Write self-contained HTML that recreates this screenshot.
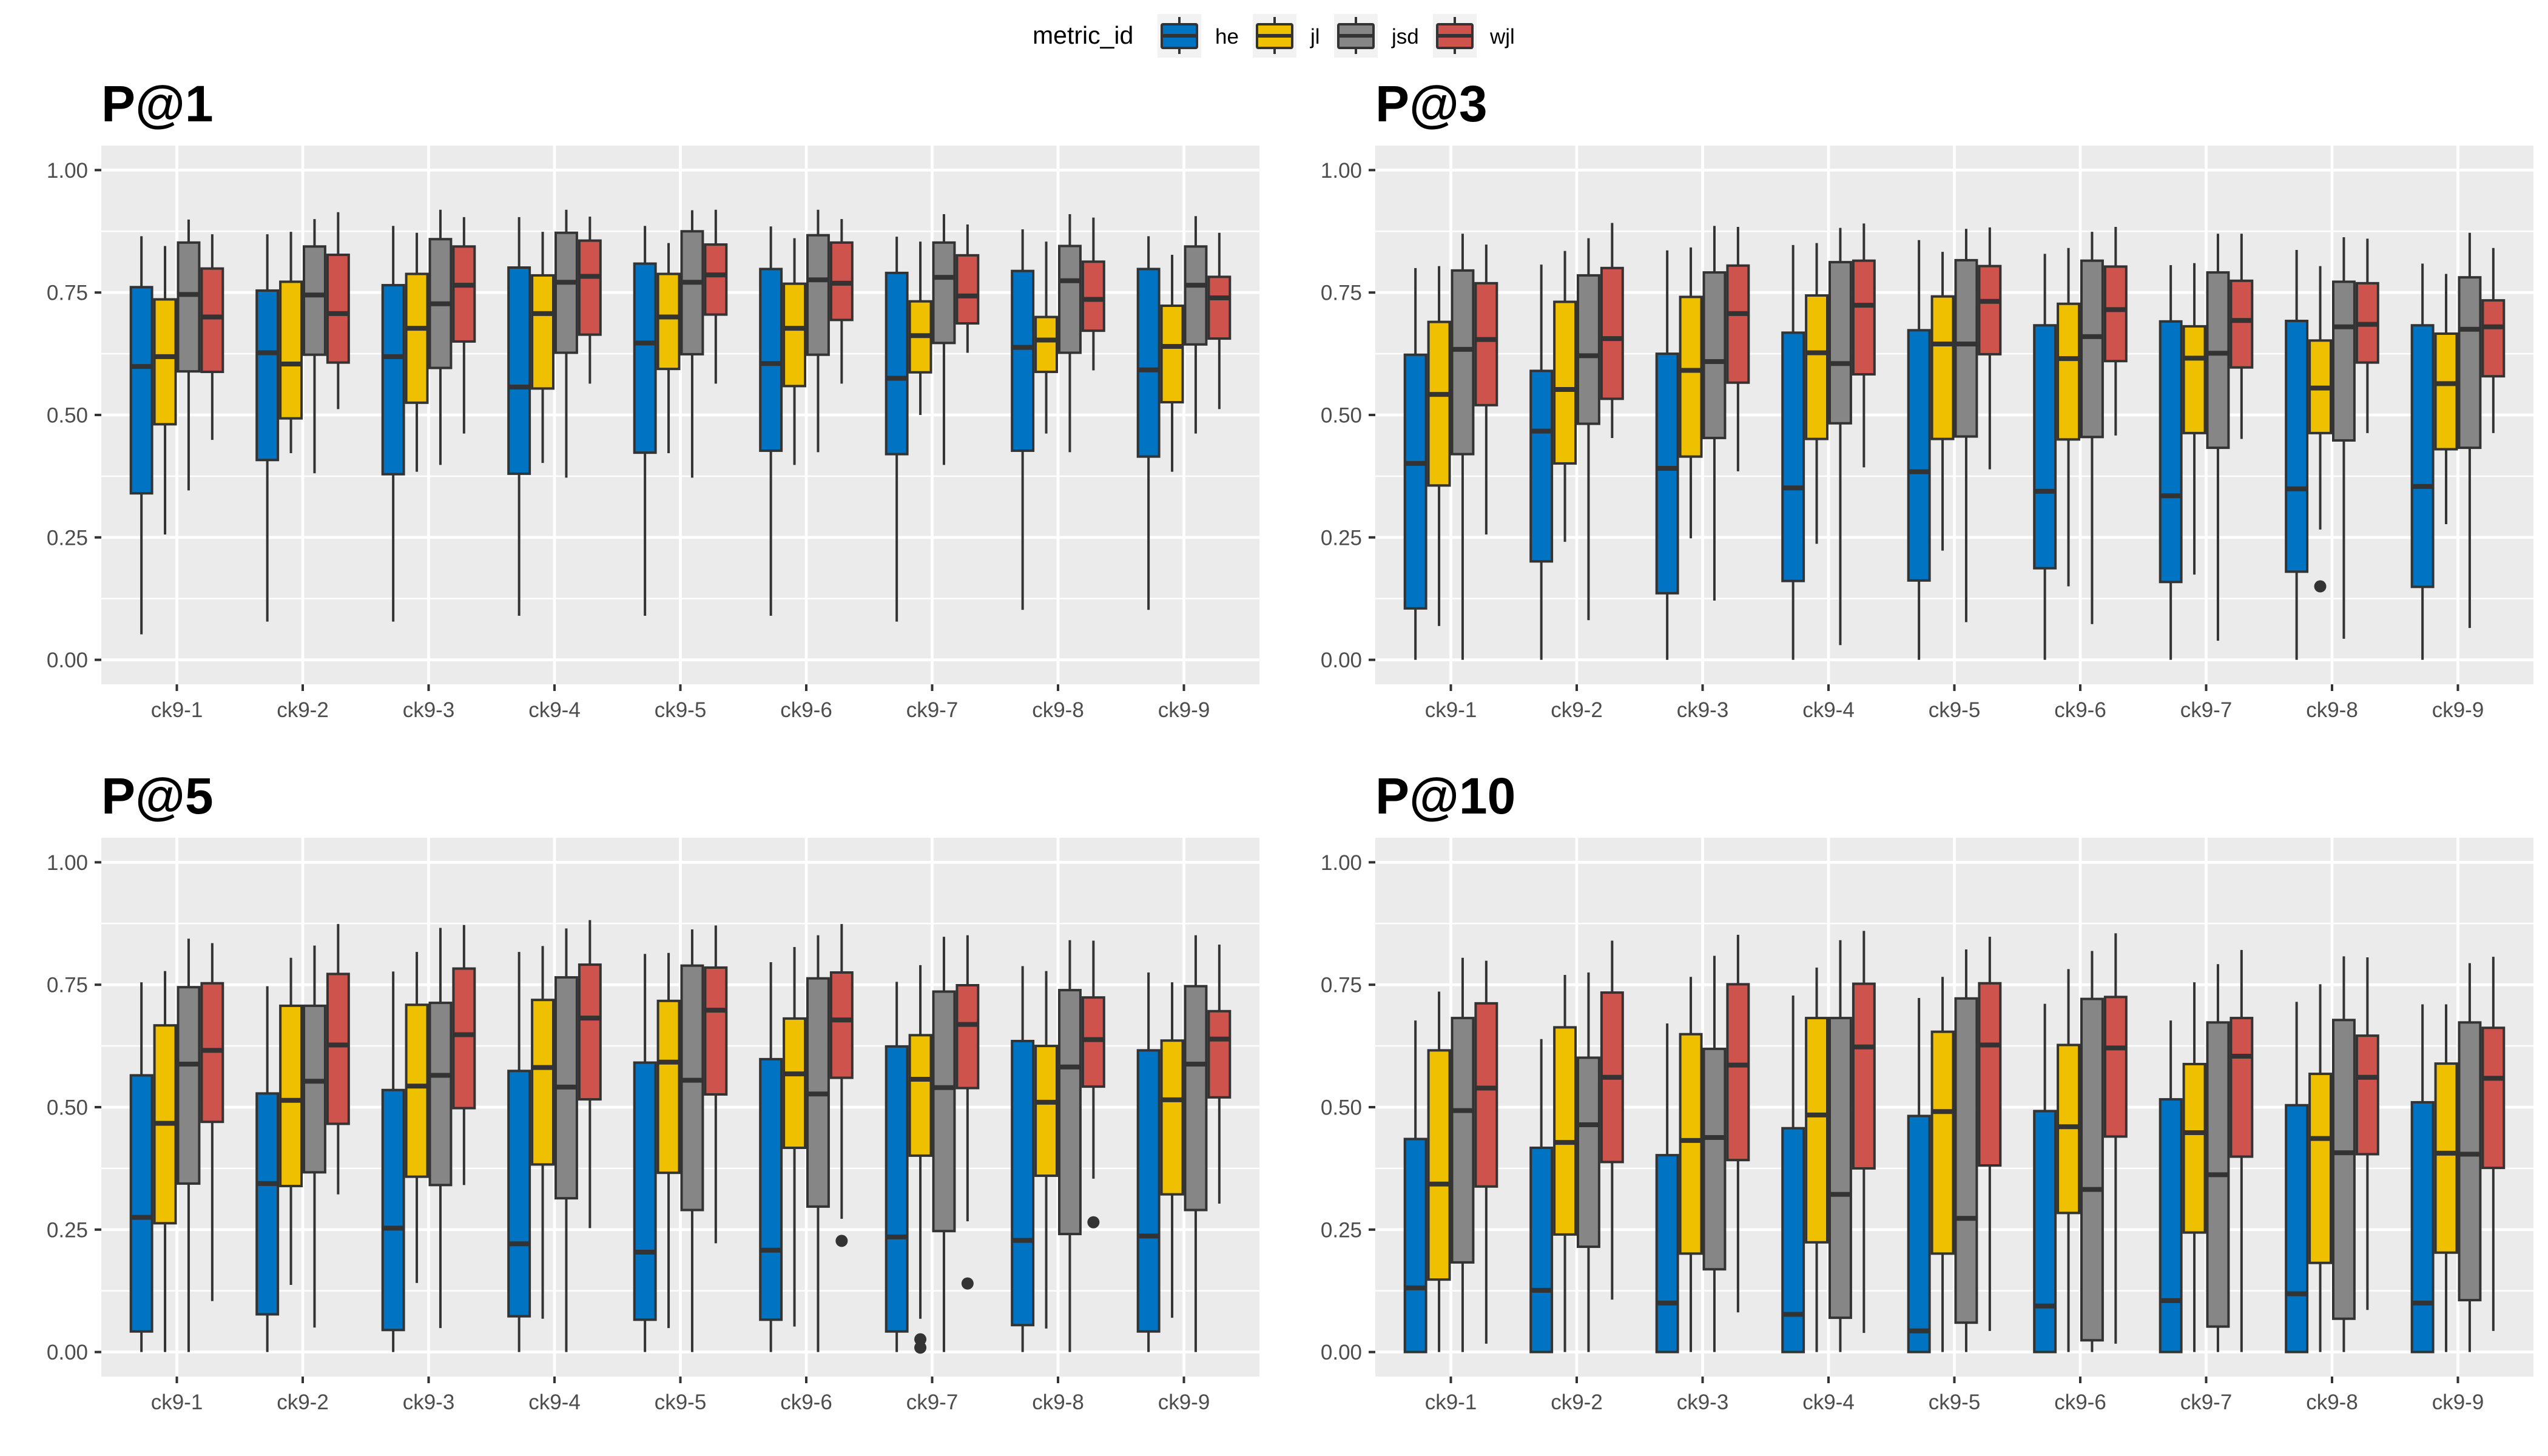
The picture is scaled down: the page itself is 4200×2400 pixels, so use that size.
<!DOCTYPE html>
<html><head><meta charset="utf-8"><style>
html,body{margin:0;padding:0;background:#fff;}
svg{display:block;}
text{font-family:"Liberation Sans",sans-serif;}
</style></head><body>
<svg id="chart" width="4200" height="2400" viewBox="0 0 4200 2400" xmlns="http://www.w3.org/2000/svg">
<g id="legend">
  <text x="1702" y="72" font-size="41" fill="#000">metric_id</text>
</g>
</svg>
<script>
const categories = ["ck9-1","ck9-2","ck9-3","ck9-4","ck9-5","ck9-6","ck9-7","ck9-8","ck9-9"];
const seriesNames = ["he","jl","jsd","wjl"];
const seriesColors = ["#0073C2","#EFC000","#868686","#CD534C"];
const yTicks = [0,0.25,0.5,0.75,1];
const yTickLabels = ["0.00","0.25","0.50","0.75","1.00"];
const panelTitles = ["P@1","P@3","P@5","P@10"];
// each entry: [lower whisker, q1, median, q3, upper whisker]
const p1_he  = [[0.052,0.340,0.599,0.761,0.865],[0.078,0.408,0.627,0.754,0.869],[0.078,0.379,0.619,0.765,0.886],[0.090,0.380,0.557,0.801,0.904],[0.090,0.423,0.647,0.809,0.886],[0.090,0.427,0.605,0.798,0.885],[0.078,0.420,0.575,0.790,0.864],[0.102,0.427,0.638,0.794,0.879],[0.102,0.415,0.592,0.798,0.865]];
const p1_jl  = [[0.256,0.481,0.619,0.736,0.845],[0.422,0.493,0.604,0.772,0.874],[0.384,0.525,0.677,0.788,0.872],[0.402,0.554,0.707,0.785,0.874],[0.422,0.594,0.700,0.788,0.851],[0.398,0.559,0.677,0.768,0.861],[0.500,0.587,0.662,0.732,0.854],[0.462,0.588,0.653,0.700,0.854],[0.384,0.526,0.640,0.723,0.827]];
const p1_jsd = [[0.346,0.589,0.746,0.852,0.899],[0.381,0.623,0.745,0.844,0.900],[0.398,0.596,0.727,0.859,0.919],[0.372,0.627,0.771,0.872,0.919],[0.372,0.624,0.771,0.875,0.918],[0.424,0.623,0.776,0.867,0.919],[0.398,0.647,0.781,0.852,0.910],[0.424,0.627,0.774,0.845,0.910],[0.462,0.644,0.765,0.844,0.906]];
const p1_wjl = [[0.449,0.588,0.700,0.799,0.869],[0.512,0.607,0.707,0.827,0.914],[0.462,0.650,0.765,0.844,0.904],[0.564,0.664,0.783,0.856,0.905],[0.564,0.705,0.786,0.848,0.919],[0.564,0.694,0.769,0.852,0.900],[0.627,0.687,0.743,0.826,0.889],[0.591,0.672,0.736,0.813,0.903],[0.512,0.656,0.739,0.782,0.872]];
const p3_he  = [[0,0.105,0.401,0.623,0.800],[0,0.201,0.467,0.590,0.807],[0,0.136,0.391,0.625,0.836],[0,0.161,0.351,0.668,0.847],[0,0.162,0.384,0.673,0.857],[0,0.187,0.344,0.683,0.829],[0,0.159,0.335,0.691,0.806],[0,0.180,0.349,0.692,0.837],[0,0.149,0.354,0.683,0.809]];
const p3_jl  = [[0.069,0.356,0.542,0.690,0.804],[0.241,0.401,0.552,0.731,0.835],[0.248,0.415,0.591,0.741,0.842],[0.237,0.451,0.627,0.744,0.851],[0.223,0.451,0.645,0.742,0.833],[0.150,0.450,0.615,0.727,0.841],[0.174,0.463,0.616,0.681,0.810],[0.266,0.463,0.555,0.652,0.804],[0.277,0.430,0.564,0.666,0.788]];
const p3_jsd = [[0,0.420,0.634,0.795,0.870],[0.081,0.482,0.621,0.785,0.861],[0.121,0.453,0.609,0.791,0.886],[0.030,0.483,0.605,0.812,0.882],[0.077,0.456,0.645,0.816,0.880],[0.073,0.455,0.660,0.815,0.874],[0.039,0.433,0.626,0.791,0.870],[0.043,0.448,0.680,0.772,0.863],[0.065,0.433,0.675,0.781,0.872]];
const p3_wjl = [[0.256,0.520,0.654,0.769,0.848],[0.453,0.533,0.656,0.800,0.892],[0.385,0.566,0.707,0.805,0.884],[0.393,0.583,0.724,0.815,0.891],[0.389,0.624,0.732,0.804,0.883],[0.458,0.610,0.715,0.803,0.884],[0.451,0.597,0.693,0.774,0.870],[0.463,0.607,0.685,0.769,0.860],[0.463,0.579,0.680,0.734,0.841]];
const p5_he  = [[0,0.042,0.275,0.565,0.755],[0,0.077,0.344,0.528,0.747],[0,0.045,0.253,0.535,0.777],[0,0.073,0.221,0.574,0.817],[0,0.066,0.204,0.591,0.813],[0,0.066,0.208,0.598,0.796],[0,0.042,0.235,0.624,0.756],[0,0.055,0.228,0.635,0.788],[0,0.042,0.237,0.616,0.775]];
const p5_jl  = [[0,0.263,0.467,0.667,0.778],[0.137,0.339,0.514,0.707,0.805],[0.141,0.358,0.543,0.709,0.817],[0.068,0.383,0.581,0.719,0.829],[0.049,0.366,0.592,0.717,0.815],[0.052,0.417,0.568,0.681,0.827],[0.068,0.401,0.557,0.647,0.790],[0.048,0.360,0.510,0.625,0.778],[0.070,0.322,0.515,0.636,0.755]];
const p5_jsd = [[0,0.344,0.588,0.745,0.844],[0.050,0.367,0.553,0.707,0.830],[0.049,0.341,0.565,0.713,0.866],[0,0.314,0.541,0.765,0.865],[0,0.290,0.555,0.789,0.863],[0,0.297,0.527,0.763,0.851],[0,0.247,0.540,0.736,0.848],[0,0.241,0.582,0.739,0.841],[0,0.290,0.588,0.747,0.851]];
const p5_wjl = [[0.104,0.470,0.616,0.753,0.835],[0.322,0.466,0.627,0.772,0.874],[0.341,0.498,0.648,0.783,0.872],[0.253,0.516,0.682,0.791,0.882],[0.222,0.526,0.698,0.785,0.871],[0.272,0.560,0.678,0.775,0.874],[0.267,0.539,0.669,0.749,0.851],[0.354,0.542,0.638,0.724,0.840],[0.303,0.520,0.639,0.696,0.832]];
const p10_he  = [[0,0,0.131,0.435,0.677],[0,0,0.126,0.417,0.639],[0,0,0.100,0.402,0.671],[0,0,0.077,0.457,0.728],[0,0,0.043,0.482,0.723],[0,0,0.094,0.492,0.711],[0,0,0.105,0.516,0.677],[0,0,0.119,0.504,0.715],[0,0,0.100,0.510,0.710]];
const p10_jl  = [[0,0.148,0.343,0.616,0.736],[0,0.240,0.428,0.663,0.770],[0,0.201,0.432,0.649,0.766],[0,0.224,0.484,0.682,0.785],[0,0.201,0.491,0.654,0.766],[0,0.284,0.460,0.627,0.782],[0,0.244,0.448,0.588,0.755],[0,0.182,0.436,0.568,0.751],[0,0.203,0.406,0.589,0.710]];
const p10_jsd = [[0,0.183,0.493,0.682,0.805],[0,0.215,0.464,0.601,0.775],[0,0.169,0.438,0.619,0.809],[0,0.070,0.322,0.682,0.841],[0,0.060,0.273,0.722,0.822],[0,0.024,0.332,0.721,0.819],[0,0.052,0.362,0.673,0.792],[0,0.068,0.407,0.678,0.808],[0,0.106,0.404,0.673,0.794]];
const p10_wjl = [[0.017,0.338,0.539,0.712,0.799],[0.107,0.388,0.561,0.734,0.840],[0.081,0.392,0.586,0.751,0.852],[0.039,0.375,0.623,0.752,0.860],[0.043,0.381,0.627,0.753,0.848],[0.017,0.440,0.621,0.725,0.855],[0,0.399,0.604,0.682,0.821],[0.086,0.404,0.561,0.646,0.806],[0.043,0.376,0.559,0.662,0.807]];
// outliers: [categoryIndex, seriesIndex, value]
const p1_outliers = [];
const p3_outliers = [[7,1,0.150]];
const p5_outliers = [[5,3,0.227],[6,1,0.026],[6,1,0.009],[6,3,0.140],[7,3,0.265]];
const p10_outliers = [];

const panelData = [[p1_he,p1_jl,p1_jsd,p1_wjl],[p3_he,p3_jl,p3_jsd,p3_wjl],[p5_he,p5_jl,p5_jsd,p5_wjl],[p10_he,p10_jl,p10_jsd,p10_wjl]];
const panelOutliers = [p1_outliers,p3_outliers,p5_outliers,p10_outliers];

const NS = "http://www.w3.org/2000/svg";
const svg = document.getElementById('chart');
function mk(tag, attrs, parent){
  const e = document.createElementNS(NS, tag);
  for (const k in attrs) e.setAttribute(k, attrs[k]);
  (parent||svg).appendChild(e);
  return e;
}
const panelPos = [{x:167,y:240},{x:2267,y:240},{x:167,y:1381},{x:2267,y:1381}];
const PW = 1909, PH = 888;
const OUT = "#333333";

panelPos.forEach((pp, pi) => {
  const g = mk('g', {});
  
  
  const yScale = v => pp.y + PH * (1.05 - v) / 1.1;
  const step = PW / 9.2;
  const xScale = i => pp.x + step * (0.6 + i);
  const bg = mk('rect', {x:pp.x, y:pp.y, width:PW, height:PH, fill:'#EBEBEB'}, g);
  
  
  for (let k = 0; k < yTicks.length - 1; k++) {
    const v = (yTicks[k] + yTicks[k+1]) / 2;
    mk('line', {x1:pp.x, x2:pp.x+PW, y1:yScale(v), y2:yScale(v), stroke:'#fff', 'stroke-width':2.4}, g);
  }
  yTicks.forEach((v, k) => {
    mk('line', {x1:pp.x, x2:pp.x+PW, y1:yScale(v), y2:yScale(v), stroke:'#fff', 'stroke-width':4.7}, g);
    mk('line', {x1:pp.x-11, x2:pp.x, y1:yScale(v), y2:yScale(v), stroke:'#333', 'stroke-width':4}, g);
    const t = mk('text', {x:pp.x-22, y:yScale(v)+12.5, 'font-size':35, fill:'#4D4D4D', 'text-anchor':'end'}, g);
    t.textContent = yTickLabels[k];
    
    
  });
  categories.forEach((c, i) => {
    mk('line', {x1:xScale(i), x2:xScale(i), y1:pp.y, y2:pp.y+PH, stroke:'#fff', 'stroke-width':4.7}, g);
    mk('line', {x1:xScale(i), x2:xScale(i), y1:pp.y+PH, y2:pp.y+PH+11, stroke:'#333', 'stroke-width':4}, g);
    const t = mk('text', {x:xScale(i), y:pp.y+PH+54, 'font-size':35, fill:'#4D4D4D', 'text-anchor':'middle'}, g);
    t.textContent = c;
    
    
  });
  const title = mk('text', {x:pp.x, y:pp.y-40, 'font-size':84, 'font-weight':'bold', fill:'#000'}, g);
  title.textContent = panelTitles[pi];
  
  
  const bw = step * 0.75 / 4;
  panelData[pi].forEach((series, si) => {
    series.forEach((st, i) => {
      const cx = xScale(i) + (si - 1.5) * bw;
      const bg2 = mk('g', {}, g);
      
      
      mk('line', {x1:cx, x2:cx, y1:yScale(st[4]), y2:yScale(st[3]), stroke:OUT, 'stroke-width':4}, bg2);
      mk('line', {x1:cx, x2:cx, y1:yScale(st[1]), y2:yScale(st[0]), stroke:OUT, 'stroke-width':4}, bg2);
      mk('rect', {x:cx-bw/2+2, y:yScale(st[3]), width:bw-4, height:Math.max(0.1, yScale(st[1])-yScale(st[3])), fill:seriesColors[si], stroke:OUT, 'stroke-width':4}, bg2);
      mk('line', {x1:cx-bw/2+2, x2:cx+bw/2-2, y1:yScale(st[2]), y2:yScale(st[2]), stroke:OUT, 'stroke-width':8}, bg2);
    });
  });
  panelOutliers[pi].forEach(o => {
    const cx = xScale(o[0]) + (o[1] - 1.5) * bw;
    const c = mk('circle', {cx:cx, cy:yScale(o[2]), r:10, fill:OUT}, g);
    
    
  });
});

const legend = document.getElementById('legend');
const keyX = [1908, 2065, 2199, 2362];
const labX = [2003, 2160, 2294, 2456];
seriesNames.forEach((s, si) => {
  const kg = mk('g', {}, legend);
  
  
  const x = keyX[si];
  mk('rect', {x:x, y:23, width:72, height:72, fill:'#F2F2F2'}, kg);
  mk('line', {x1:x+36, x2:x+36, y1:28, y2:89, stroke:OUT, 'stroke-width':4}, kg);
  mk('rect', {x:x+7, y:40, width:58, height:39, fill:seriesColors[si], stroke:OUT, 'stroke-width':4, rx:2}, kg);
  mk('line', {x1:x+7, x2:x+65, y1:59, y2:59, stroke:OUT, 'stroke-width':6}, kg);
  const t = mk('text', {x:labX[si], y:72, 'font-size':35, fill:'#000'}, kg);
  t.textContent = s;
});
</script>
</body></html>
